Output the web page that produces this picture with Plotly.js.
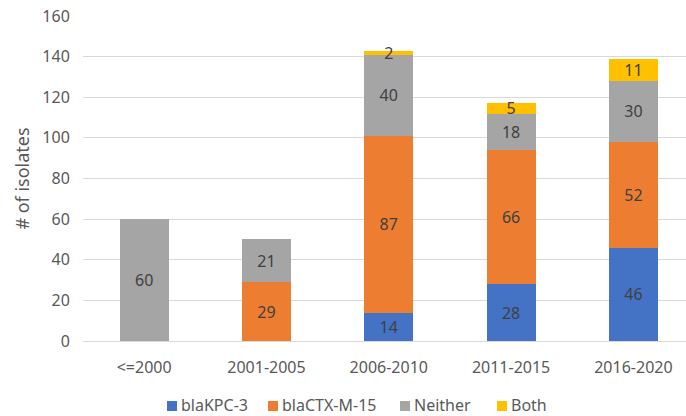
<!DOCTYPE html>
<html>
<head>
<meta charset="utf-8">
<script src="https://cdn.plot.ly/plotly-3.0.1.min.js"></script>
<style>html,body{margin:0;padding:0;background:#fff;}#chart{width:686px;height:416px;}</style>
</head>
<body>
<div id="chart"></div>
<script>
const categories = ["<=2000", "2001-2005", "2006-2010", "2011-2015", "2016-2020"];
const seriesNames = ["blaKPC-3", "blaCTX-M-15", "Neither", "Both"];
const kpc = [null, null, 14, 28, 46];
const ctx = [null, 29, 87, 66, 52];
const neither = [60, 21, 40, 18, 30];
const both = [null, null, 2, 5, 11];
const yTicks = [0, 20, 40, 60, 80, 100, 120, 140, 160];
const colors = ['#4472C4', '#ED7D31', '#A5A5A5', '#FFC000'];

const FONT = '"Noto Sans", sans-serif';
function series(name, vals, color) {
  return {
    type: 'bar', name: name, x: categories, y: vals,
    marker: {color: color},
    text: vals.map(v => v === null ? '' : String(v)),
    textposition: 'inside', insidetextanchor: 'middle', textangle: 0,
    textfont: {family: FONT, size: 16, color: '#404040'},
    hoverinfo: 'none', showlegend: false
  };
}
const allVals = [kpc, ctx, neither, both];
const data = allVals.map((v, i) => series(seriesNames[i], v, colors[i]));

// manual legend (Excel-style compact)
const L = 83, W = 603, B = 341, H = 325;
const px = x => (x - L) / W;
const py = y => (B - y) / H;
const legendSquareLeft = [167, 268, 400, 497];
const shapes = [];
const annotations = [];
legendSquareLeft.forEach((sx, i) => {
  shapes.push({type: 'rect', xref: 'paper', yref: 'paper',
    x0: px(sx), x1: px(sx + 10), y0: py(411), y1: py(401),
    fillcolor: colors[i], line: {width: 0}});
  annotations.push({xref: 'paper', yref: 'paper', x: px(sx + 13), y: py(405),
    xanchor: 'left', yanchor: 'middle', showarrow: false, text: seriesNames[i], borderpad: 0,
    font: {family: FONT, size: 16, color: '#595959'}});
});

const layout = {
  width: 686, height: 416,
  margin: {l: L, r: 0, t: 16, b: 75, autoexpand: false},
  barmode: 'stack', bargap: 0.6,
  paper_bgcolor: '#fff', plot_bgcolor: '#fff',
  font: {family: FONT, size: 16, color: '#595959'},
  uniformtext: {mode: 'show', minsize: 16},
  showlegend: false,
  shapes: shapes, annotations: annotations,
  xaxis: {range: [-0.5, 4.43], showgrid: false, zeroline: false, showline: false,
          ticks: 'outside', ticklen: 12, tickcolor: 'rgba(0,0,0,0)',
          tickfont: {family: FONT, size: 16, color: '#595959'}, fixedrange: true},
  yaxis: {range: [0, 160], tickvals: yTicks, showgrid: true, gridcolor: '#D9D9D9', gridwidth: 1,
          zeroline: true, zerolinecolor: '#D9D9D9', zerolinewidth: 1, showline: false,
          ticks: 'outside', ticklen: 9, tickcolor: 'rgba(0,0,0,0)',
          tickfont: {family: FONT, size: 16, color: '#595959'},
          title: {text: '# of isolates', font: {family: FONT, size: 18, color: '#595959'}, standoff: 8}}
};
Plotly.newPlot('chart', data, layout, {displayModeBar: false, staticPlot: true});
</script>
</body>
</html>
